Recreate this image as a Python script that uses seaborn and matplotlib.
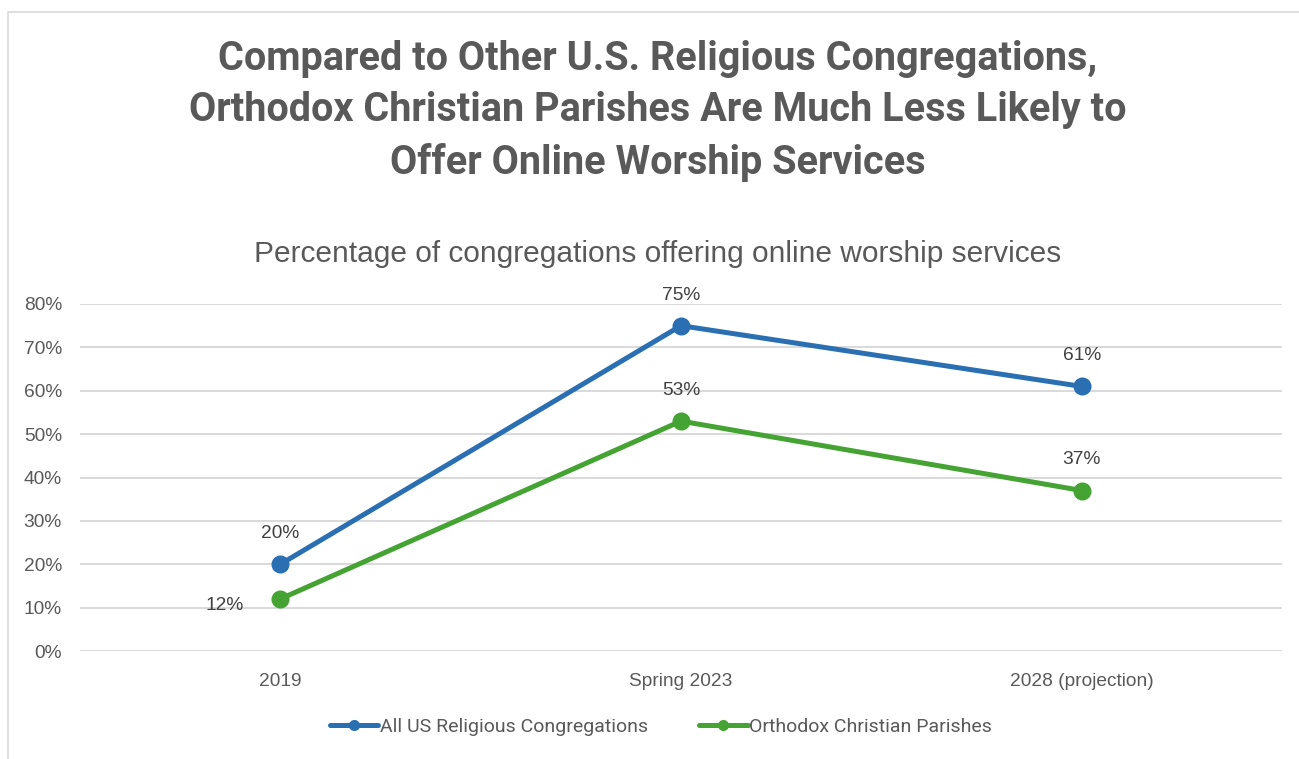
import matplotlib
matplotlib.use("Agg")
import matplotlib.pyplot as plt
from matplotlib.lines import Line2D
from matplotlib.patches import Rectangle
import seaborn as sns
import pandas as pd

periods = ["2019", "Spring 2023", "2028 (projection)"]
all_us = [0.20, 0.75, 0.61]
orthodox = [0.12, 0.53, 0.37]
series_names = ["All US Religious Congregations", "Orthodox Christian Parishes"]
yticks = [0.0, 0.1, 0.2, 0.3, 0.4, 0.5, 0.6, 0.7, 0.8]

title = ("Compared to Other U.S. Religious Congregations,\n"
         "Orthodox Christian Parishes Are Much Less Likely to\n"
         "Offer Online Worship Services")
subtitle = "Percentage of congregations offering online worship services"

colors = {series_names[0]: "#2b6fb3", series_names[1]: "#44a333"}
text_color = "#595959"

df = pd.DataFrame({
    "period": periods * 2,
    "share": all_us + orthodox,
    "series": [series_names[0]] * 3 + [series_names[1]] * 3,
})
df["pos"] = df["period"].map({p: i for i, p in enumerate(periods)})

sns.set_theme(style="white")
plt.rcParams["font.family"] = ["Liberation Sans", "DejaVu Sans"]

W, H = 1299, 759
fig = plt.figure(figsize=(W / 100, H / 100), dpi=100)
fig.patch.set_facecolor("white")

# outer chart frame
fig.patches.append(Rectangle((8 / W, -0.05), 1.2, (759 - 12) / H + 0.05,
                             transform=fig.transFigure, fill=False,
                             edgecolor="#d9d9d9", linewidth=1.2))

ax = fig.add_axes([80 / W, (H - 651) / H, 1202 / W, (651 - 304) / H])
sns.lineplot(data=df, x="pos", y="share", hue="series", palette=colors,
             marker="o", markersize=13, markeredgewidth=0, linewidth=3.6,
             legend=False, ax=ax)

ax.set_xlim(-0.5, len(periods) - 0.5)
ax.set_ylim(0, 0.8)
ax.set_yticks(yticks)
ax.set_yticklabels([f"{int(round(v * 100))}%" for v in yticks])
ax.set_xticks(range(len(periods)))
ax.set_xticklabels(periods)
ax.tick_params(axis="both", length=0, labelsize=13.8, labelcolor=text_color)
ax.tick_params(axis="x", pad=16)
ax.tick_params(axis="y", pad=13)
ax.grid(axis="y", color="#d9d9d9", linewidth=1.4)
ax.set_axisbelow(True)
for s in ax.spines.values():
    s.set_visible(False)
ax.set_xlabel("")
ax.set_ylabel("")
ax.set_facecolor("none")

# value labels
for vals in (all_us, orthodox):
    for i, v in enumerate(vals):
        label = f"{int(round(v * 100))}%"
        if vals is orthodox and i == 0:
            ax.annotate(label, (i, v), xytext=(-40, -5), textcoords="offset points",
                        ha="center", va="center", fontsize=13.8, color="#404040")
        else:
            ax.annotate(label, (i, v), xytext=(0, 22), textcoords="offset points",
                        ha="center", va="center", fontsize=13.8, color="#404040")

fig.text(658 / W, 1 - 111 / H, title, ha="center", va="center",
         fontsize=28.5, fontweight="bold", color=text_color,
         family=["Roboto", "DejaVu Sans"], linespacing=1.44)
fig.text(658 / W, 1 - 254 / H, subtitle, ha="center", va="center",
         fontsize=21.5, color=text_color, family=["Liberation Sans", "DejaVu Sans"])

handles = [Line2D([0], [0], color=colors[n], linewidth=3.6, marker="o",
                  markersize=8, markeredgewidth=0) for n in series_names]
leg = fig.legend(handles, series_names, loc="center", bbox_to_anchor=(661 / W, 1 - 727 / H),
                 ncol=2, frameon=False, handlelength=2.5,
                 handletextpad=0.1, columnspacing=2.6,
                 prop={"family": ["Roboto", "DejaVu Sans"], "size": 14})
for t in leg.get_texts():
    t.set_color(text_color)

fig.savefig("out.png", dpi=100, facecolor="white")
